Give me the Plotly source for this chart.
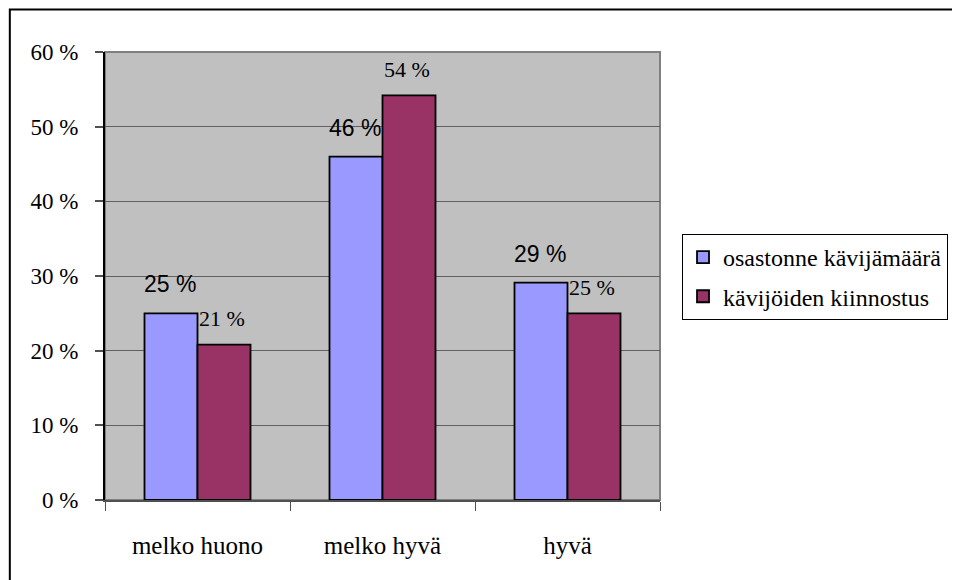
import plotly.graph_objects as go

categories = ["melko huono", "melko hyvä", "hyvä"]
series_names = ["osastonne kävijämäärä", "kävijöiden kiinnostus"]
visitors = [25.0, 46.0, 29.1]
interest = [20.8, 54.2, 25.0]
visitors_labels = ["25 %", "46 %", "29 %"]
interest_labels = ["21 %", "54 %", "25 %"]
y_tick_values = [0, 10, 20, 30, 40, 50, 60]
y_tick_labels = ["0 %", "10 %", "20 %", "30 %", "40 %", "50 %", "60 %"]

SERIF = "Times New Roman"
SANS = "Arial"
C1 = "#9999FF"
C2 = "#993366"

fig = go.Figure()
fig.add_trace(go.Bar(x=categories, y=visitors, name=series_names[0], legendgroup="a",
                     marker=dict(color=C1, line=dict(color="black", width=1.8))))
fig.add_trace(go.Bar(x=categories, y=interest, name=series_names[1], legendgroup="b",
                     marker=dict(color=C2, line=dict(color="black", width=1.8))))

for c, v, t in zip(categories, visitors, visitors_labels):
    fig.add_annotation(x=c, y=v, text=t, showarrow=False, xshift=-28, yshift=29,
                       yanchor="middle", xanchor="center",
                       font=dict(family=SANS, size=23, color="black"))
for c, v, t in zip(categories, interest, interest_labels):
    fig.add_annotation(x=c, y=v, text=t, showarrow=False, xshift=24, yshift=26,
                       yanchor="middle", xanchor="center",
                       font=dict(family=SERIF, size=22, color="black"))

shapes = [
    dict(type="rect", xref="paper", yref="paper", x0=0, y0=0, x1=1, y1=1,
         line=dict(color="#808080", width=2), layer="below"),
    dict(type="rect", xref="paper", yref="paper", x0=-0.1715, y0=-0.2, x1=1.6, y1=1.0949,
         line=dict(color="black", width=2), fillcolor="rgba(0,0,0,0)"),
]

fig.update_layout(
    width=952, height=572,
    margin=dict(l=97, r=300, t=44, b=80, autoexpand=False),
    font=dict(family=SERIF, size=22, color="black"),
    paper_bgcolor="white",
    plot_bgcolor="#C0C0C0",
    barmode="group",
    bargap=0.427,
    bargroupgap=0,
    showlegend=True,
    legend=dict(xref="container", yref="container", x=0.708, y=0.605,
                xanchor="left", yanchor="top",
                bordercolor="black", borderwidth=1, bgcolor="white",
                font=dict(family=SERIF, size=24, color="black"),
                tracegroupgap=5, itemwidth=30, traceorder="grouped"),
    shapes=shapes,
    xaxis=dict(showline=True, linecolor="#505050", linewidth=2,
               ticks="outside", tickson="boundaries", ticklen=9, tickcolor="#505050",
               tickwidth=1, ticklabelstandoff=22,
               tickfont=dict(family=SERIF, size=25, color="black"), showgrid=False),
    yaxis=dict(range=[0, 60], tickvals=y_tick_values, ticktext=y_tick_labels,
               showline=True, linecolor="black", linewidth=2,
               ticks="outside", ticklen=8, tickcolor="#505050", tickwidth=2,
               ticklabelstandoff=12,
               tickfont=dict(family=SERIF, size=23, color="black"),
               showgrid=True, gridcolor="#606060", gridwidth=1, zeroline=False),
)

fig.write_html("out.html")
